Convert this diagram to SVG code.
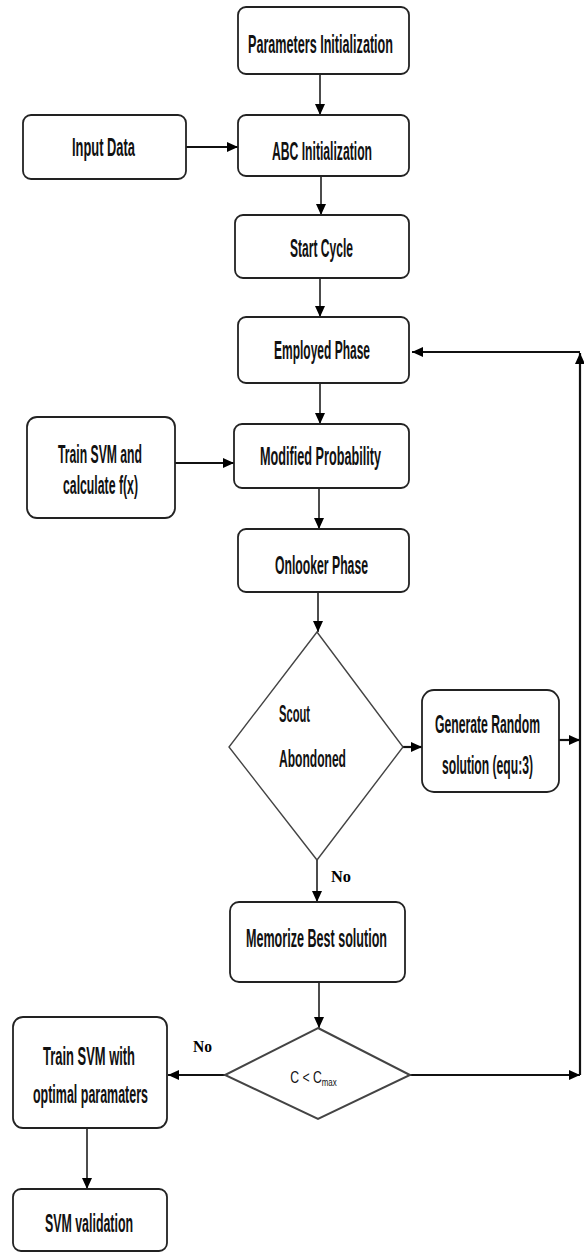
<svg xmlns="http://www.w3.org/2000/svg" width="584" height="1254" viewBox="0 0 584 1254">
<style>
.box{fill:#fff;stroke:#222;stroke-width:1.8}
.dia{fill:#fff;stroke:#444;stroke-width:1.4}
.t{font-family:'Liberation Sans','DejaVu Sans',sans-serif;font-weight:bold;font-size:25px;fill:#111;text-anchor:middle}
.ts{font-family:'Liberation Sans','DejaVu Sans',sans-serif;font-weight:bold;font-size:23px;fill:#111}
.no{font-family:'Liberation Serif','DejaVu Serif',serif;font-weight:bold;font-size:17px;fill:#000}
.c{fill:none;stroke:#111;stroke-width:1.5}
.cw{fill:none;stroke:#111;stroke-width:2.2}
</style>
<defs>
<marker id="ah" markerUnits="userSpaceOnUse" markerWidth="12" markerHeight="12" viewBox="0 0 12 12" refX="11" refY="6" orient="auto">
<path d="M0,1 L11,6 L0,11 Z" fill="#000"/>
</marker>
</defs>
<g id="connectors">
<path class="c" d="M320,74 V115" marker-end="url(#ah)"/>
<path class="cw" d="M186,147 H238" marker-end="url(#ah)"/>
<path class="c" d="M321,176 V215" marker-end="url(#ah)"/>
<path class="c" d="M320,278 V317" marker-end="url(#ah)"/>
<path class="c" d="M320,383 V424" marker-end="url(#ah)"/>
<path class="cw" d="M175,463 H234" marker-end="url(#ah)"/>
<path class="c" d="M319,488 V529" marker-end="url(#ah)"/>
<path class="c" d="M318,592 V632" marker-end="url(#ah)"/>
<path class="cw" d="M403,747 H422" marker-end="url(#ah)"/>
<path class="cw" d="M559,740 H580" marker-end="url(#ah)"/>
<path class="c" d="M317,860 V902" marker-end="url(#ah)"/>
<path class="c" d="M319,982 V1028" marker-end="url(#ah)"/>
<path class="cw" d="M225,1075 H168" marker-end="url(#ah)"/>
<path class="cw" d="M410,1075 H580" marker-end="url(#ah)"/>
<path class="cw" d="M580,1075 V353" marker-end="url(#ah)"/>
<path class="cw" d="M580,352 H412" marker-end="url(#ah)"/>
<path class="c" d="M87,1128 V1189" marker-end="url(#ah)"/>
<text class="no" x="331" y="882" textLength="20" lengthAdjust="spacingAndGlyphs">No</text>
<text class="no" x="193" y="1052" textLength="19" lengthAdjust="spacingAndGlyphs">No</text>
</g>
<g id="params"><rect class="box" x="238" y="7" width="171" height="67" rx="8"/><text class="t" transform="scale(0.5,1)" x="641" y="53" textLength="290" lengthAdjust="spacingAndGlyphs">Parameters Initialization</text></g>
<g id="input"><rect class="box" x="23" y="115" width="163" height="64" rx="8"/><text class="t" transform="scale(0.5,1)" x="207" y="156" textLength="126" lengthAdjust="spacingAndGlyphs">Input Data</text></g>
<g id="abc"><rect class="box" x="238" y="115" width="171" height="61" rx="8"/><text class="t" transform="scale(0.5,1)" x="644" y="160" textLength="200" lengthAdjust="spacingAndGlyphs">ABC Initialization</text></g>
<g id="start"><rect class="box" x="235" y="215" width="174" height="63" rx="8"/><text class="t" transform="scale(0.5,1)" x="643" y="257" textLength="126" lengthAdjust="spacingAndGlyphs">Start Cycle</text></g>
<g id="employed"><rect class="box" x="238" y="317" width="171" height="66" rx="8"/><text class="t" transform="scale(0.5,1)" x="644" y="359" textLength="192" lengthAdjust="spacingAndGlyphs">Employed Phase</text></g>
<g id="trainsvm"><rect class="box" x="27" y="417" width="148" height="101" rx="10"/><text class="t" transform="scale(0.5,1)" x="200" y="463" textLength="168" lengthAdjust="spacingAndGlyphs">Train SVM and</text><text class="t" transform="scale(0.5,1)" x="201" y="494" textLength="150" lengthAdjust="spacingAndGlyphs">calculate f(x)</text></g>
<g id="modified"><rect class="box" x="234" y="424" width="175" height="64" rx="8"/><text class="t" transform="scale(0.5,1)" x="641" y="465" textLength="242" lengthAdjust="spacingAndGlyphs">Modified Probability</text></g>
<g id="onlooker"><rect class="box" x="238" y="529" width="171" height="63" rx="8"/><text class="t" transform="scale(0.5,1)" x="643" y="574" textLength="186" lengthAdjust="spacingAndGlyphs">Onlooker Phase</text></g>
<g id="scout"><polygon class="dia" points="317,632 403,747 317,860 229,747"/><text class="ts" transform="scale(0.5,1)" x="558" y="722" textLength="62" lengthAdjust="spacingAndGlyphs">Scout</text><text class="ts" transform="scale(0.5,1)" x="558" y="767" textLength="134" lengthAdjust="spacingAndGlyphs">Abondoned</text></g>
<g id="generate"><rect class="box" x="422" y="690" width="137" height="102" rx="12"/><text class="t" transform="scale(0.5,1)" x="975" y="733" textLength="210" lengthAdjust="spacingAndGlyphs">Generate Random</text><text class="t" transform="scale(0.5,1)" x="975" y="774" textLength="182" lengthAdjust="spacingAndGlyphs">solution (equ:3)</text></g>
<g id="memorize"><rect class="box" x="230" y="902" width="175" height="80" rx="9"/><text class="t" transform="scale(0.5,1)" x="633" y="947" textLength="282" lengthAdjust="spacingAndGlyphs">Memorize Best solution</text></g>
<g id="cmax"><polygon class="dia" points="318,1028 410,1075 318,1119 225,1075" style="stroke-width:2"/><text transform="scale(0.72,1)" x="403" y="1083" font-family="'Liberation Sans',sans-serif" font-size="17" fill="#111">C &lt; C<tspan font-size="11" dy="3">max</tspan></text></g>
<g id="trainopt"><rect class="box" x="13" y="1017" width="154" height="111" rx="10"/><text class="t" transform="scale(0.5,1)" x="178" y="1065" textLength="184" lengthAdjust="spacingAndGlyphs">Train SVM with</text><text class="t" transform="scale(0.5,1)" x="181" y="1103" textLength="230" lengthAdjust="spacingAndGlyphs">optimal paramaters</text></g>
<g id="validation"><rect class="box" x="13" y="1189" width="154" height="62" rx="8"/><text class="t" transform="scale(0.5,1)" x="178" y="1232" textLength="176" lengthAdjust="spacingAndGlyphs">SVM validation</text></g>
</svg>
